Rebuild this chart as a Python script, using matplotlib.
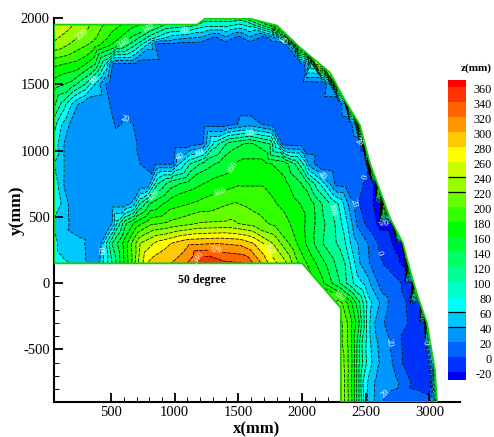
import numpy as np
import matplotlib
matplotlib.use("Agg")
import matplotlib.pyplot as plt
from matplotlib.colors import ListedColormap, BoundaryNorm
from matplotlib.patches import Polygon
from matplotlib.ticker import FixedLocator, NullFormatter
import matplotlib.tri as mtri
import matplotlib.transforms as mtrans

plt.rcParams['font.family'] = ['Liberation Serif', 'DejaVu Serif']
plt.rcParams['axes.unicode_minus'] = False

levels = [-60, -20, 0, 20, 40, 60, 80, 100, 120, 140, 160, 180, 200, 220, 240, 260, 280, 300, 320, 340, 360, 420]
band_colors = ['#0000ff', '#0032ff', '#0064ff', '#0096ff', '#00c8ff', '#00ffff', '#00ffc8', '#00ff96', '#00ff64',
               '#00ff32', '#00ff00', '#32ff00', '#64ff00', '#96ff00', '#c8ff00', '#ffff00', '#ffc800', '#ff9600',
               '#ff6400', '#ff3200', '#ff0000']
bar_ticks = [360, 340, 320, 300, 280, 260, 240, 220, 200, 180, 160, 140, 120, 100, 80, 60, 40, 20, 0, -20]

boundary_x = [52, 1175, 1238, 1591, 1803, 1984, 2219, 2337, 2455, 2533, 2690, 2792, 2847, 2910, 2981, 3043, 3059, 2305, 2305, 2000, 52]
boundary_y = [1950, 1950, 1995, 1995, 1943, 1777, 1589, 1378, 1190, 904, 490, 301, 98, -105, -301, -655, -896, -896, -188, 150, 150]

# thickness profiles read along rows of constant y
y2000 = 2000; x2000 = [52, 547, 806, 1175, 1238, 1513, 1803, 1984]; z2000 = [260, 185, 150, 120, 110, 110, 220, 220]
y1950 = 1950; x1950 = [52, 257, 414, 547, 649, 806, 924, 1120, 1238, 1400, 1591, 1748, 1803, 1870]
z1950 = [255, 235, 205, 185, 170, 150, 120, 110, 90, 90, 90, 150, 240, 240]
y1850 = 1850; x1850 = [52, 359, 547, 673, 806, 924, 1120, 1316, 1500, 1709, 1772, 1850, 1905, 1950]
z1850 = [245, 205, 165, 135, 90, 60, 40, 15, 12, 12, 30, 80, 240, 240]
y1800 = 1800; x1800 = [52, 359, 547, 673, 806, 853, 1025, 1199, 1400, 1591, 1750, 1866, 1921, 1968, 2000]
z1800 = [235, 195, 150, 110, 50, 15, 12, 10, 9, 8, 10, 15, 60, 220, 220]
y1650 = 1650; x1650 = [52, 257, 374, 453, 492, 516, 700, 900, 1100, 1300, 1591, 1800, 1984, 2046, 2078, 2109, 2150]
z1650 = [185, 170, 140, 80, 40, 15, 12, 10, 9, 8, 8, 8, 8, 30, 100, 220, 220]
y1500 = 1500; x1500 = [52, 178, 296, 374, 445, 492, 700, 950, 1199, 1400, 1600, 1800, 2000, 2180, 2219, 2266, 2300]
z1500 = [150, 135, 100, 60, 22, 15, 10, 8, 6, 6, 6, 8, 8, 10, 40, 220, 220]
y1350 = 1350; x1350 = [52, 115, 178, 241, 296, 484, 531, 700, 950, 1199, 1400, 1600, 1800, 2000, 2150, 2298, 2337, 2360, 2390]
z1350 = [125, 95, 65, 40, 30, 21, 15, 10, 8, 6, 6, 6, 6, 8, 8, 8, 40, 240, 240]
y1200 = 1200; x1200 = [52, 100, 162, 194, 350, 492, 547, 618, 673, 767, 900, 1050, 1222, 1400, 1591, 1772, 1950, 2150, 2300, 2376, 2415, 2455, 2490]
z1200 = [90, 65, 45, 32, 28, 24, 18, 22, 20, 12, 10, 10, 10, 10, 30, 10, 8, 8, 8, 8, 40, 260, 260]
y1050 = 1050; x1050 = [52, 123, 147, 300, 500, 688, 712, 850, 1000, 1120, 1222, 1261, 1316, 1434, 1591, 1748, 1811, 1850, 2000, 2150, 2300, 2400, 2447, 2470, 2494, 2530]
z1050 = [72, 45, 30, 30, 27, 24, 18, 14, 12, 12, 20, 50, 90, 130, 145, 120, 60, 15, 10, 8, 8, 8, 8, -5, 340, 340]
y900 = 900; x900 = [52, 115, 139, 300, 500, 688, 728, 850, 987, 1026, 1120, 1238, 1356, 1513, 1709, 1866, 1944, 2023, 2062, 2125, 2250, 2350, 2455, 2502, 2533, 2570]
z900 = [60, 50, 35, 30, 27, 24, 20, 18, 18, 55, 100, 130, 145, 165, 165, 150, 120, 70, 30, 12, 10, 8, 8, 8, 340, 340]
y750 = 750; x750 = [52, 100, 139, 300, 500, 728, 790, 822, 869, 963, 1120, 1277, 1513, 1709, 1866, 2023, 2141, 2219, 2266, 2350, 2439, 2470, 2549, 2580, 2596, 2630]
z750 = [70, 55, 35, 30, 27, 24, 22, 60, 100, 130, 150, 165, 178, 178, 165, 135, 80, 40, 14, 10, 8, 2, -15, -25, 300, 300]
y600 = 600; x600 = [52, 115, 178, 350, 500, 610, 673, 728, 806, 963, 1199, 1591, 1748, 1905, 2062, 2219, 2298, 2360, 2415, 2455, 2549, 2572, 2612, 2643, 2680]
z600 = [75, 58, 35, 32, 30, 30, 45, 100, 140, 170, 185, 195, 185, 170, 150, 100, 75, 40, 15, -2, -15, -25, -25, 300, 300]
y450 = 450; x450 = [52, 162, 194, 350, 492, 516, 555, 610, 688, 806, 963, 1199, 1434, 1630, 1787, 1984, 2141, 2258, 2337, 2392, 2439, 2502, 2572, 2604, 2706, 2722, 2760]
z450 = [55, 42, 35, 32, 30, 45, 90, 135, 165, 195, 205, 222, 225, 210, 195, 170, 130, 100, 70, 40, 15, -2, -15, -25, -25, 300, 300]
y300 = 300; x300 = [52, 100, 288, 320, 414, 429, 508, 610, 728, 885, 1097, 1332, 1513, 1620, 1772, 1960, 2164, 2321, 2400, 2478, 2557, 2635, 2745, 2780, 2800, 2830]
z300 = [75, 50, 42, 32, 28, 50, 120, 170, 240, 270, 295, 300, 295, 280, 240, 180, 120, 90, 50, 30, 10, -10, -25, -25, 300, 300]
y150 = 150; x150 = [52, 147, 288, 335, 382, 414, 508, 649, 728, 806, 1018, 1175, 1238, 1395, 1552, 1646, 1764, 1866, 1944, 2000, 2219, 2337, 2455, 2549, 2651, 2729, 2808, 2850, 2890]
z150 = [75, 62, 45, 30, 30, 45, 100, 190, 250, 285, 305, 335, 362, 345, 340, 310, 270, 245, 210, 190, 130, 100, 40, 15, -2, -15, -25, 300, 300]
y0 = 0; x0 = [1944, 2141, 2298, 2415, 2494, 2557, 2612, 2729, 2808, 2863, 2885, 2940]
z0 = [185, 170, 120, 75, 55, 32, 15, 8, -5, -10, 300, 300]
ym150 = -150; xm150 = [2305, 2376, 2439, 2494, 2533, 2596, 2651, 2729, 2847, 2926, 2945, 3010]
zm150 = [205, 170, 130, 90, 65, 45, 25, 10, -3, -8, 250, 250]
ym300 = -300; xm300 = [2305, 2376, 2439, 2478, 2510, 2557, 2612, 2714, 2926, 2960, 2981, 3020]
zm300 = [225, 190, 150, 110, 75, 45, 25, 10, -8, -8, 200, 200]
ym450 = -450; xm450 = [2305, 2376, 2431, 2470, 2517, 2572, 2659, 2745, 2808, 2965, 3004, 3020, 3050]
zm450 = [225, 190, 140, 100, 70, 45, 25, 8, -5, -8, 60, 150, 150]
ym600 = -600; xm600 = [2305, 2392, 2439, 2486, 2549, 2596, 2690, 2753, 2808, 2988, 3028, 3051, 3080]
zm600 = [235, 180, 130, 90, 60, 42, 25, 8, -5, -8, 60, 150, 150]
ym750 = -750; xm750 = [2305, 2400, 2439, 2478, 2533, 2596, 2729, 2824, 2863, 3004, 3028, 3067, 3090]
zm750 = [240, 170, 130, 80, 50, 32, 25, 10, -3, -8, 60, 150, 150]
ym900 = -900; xm900 = [2305, 2392, 2439, 2494, 2549, 2596, 2675, 2800, 2988, 3036, 3083, 3110]
zm900 = [240, 180, 130, 70, 45, 30, 12, 8, 5, 50, 150, 150]

rows = [(y2000, x2000, z2000), (y1950, x1950, z1950), (y1850, x1850, z1850), (y1800, x1800, z1800),
        (y1650, x1650, z1650), (y1500, x1500, z1500), (y1350, x1350, z1350), (y1200, x1200, z1200),
        (y1050, x1050, z1050), (y900, x900, z900), (y750, x750, z750), (y600, x600, z600),
        (y450, x450, z450), (y300, x300, z300), (y150, x150, z150), (y0, x0, z0),
        (ym150, xm150, zm150), (ym300, xm300, zm300), (ym450, xm450, zm450), (ym600, xm600, zm600),
        (ym750, xm750, zm750), (ym900, xm900, zm900)]

px = np.concatenate([np.asarray(r[1], float) for r in rows])
py = np.concatenate([np.full(len(r[1]), r[0], float) for r in rows])
pz = np.concatenate([np.asarray(r[2], float) for r in rows])

fig = plt.figure(figsize=(4.94, 4.37), dpi=100)
W, H = 494.0, 437.0
ax = fig.add_axes([54 / W, 1 - 402 / H, (460 - 54) / W, (402 - 18) / H])
ax.set_xlim(52, 3240)
ax.set_ylim(-896, 1995)

cmap = ListedColormap(band_colors)
norm = BoundaryNorm(levels, cmap.N)
tri = mtri.Triangulation(px, py)

clip = Polygon(np.column_stack([boundary_x, boundary_y]), closed=True, transform=ax.transData, fc='none', ec='none')
ax.add_patch(clip)
cf = ax.tricontourf(tri, pz, levels=levels, cmap=cmap, norm=norm)
cs = ax.tricontour(tri, pz, levels=levels[1:-1], colors='black', linewidths=0.55, linestyles=[(0, (5, 1.5))])
cf.set_clip_path(clip)
cs.set_clip_path(clip)

label_points = [(610, 1230), (374, 1530), (272, 1880), (594, 1815), (783, 1930), (1081, 1890), (1041, 958),
                (1199, 980), (1489, 850), (1364, 660), (830, 665), (453, 250), (1591, 1130), (1317, 240),
                (1199, 190), (1750, 260), (2290, -100), (2612, 230), (2667, -450), (2667, -850), (2150, 800),
                (2250, 560), (2400, 600), (1850, 1820), (2430, 1060), (2500, 800), (2640, 450), (2960, -450)]
lbls = ax.clabel(cs, manual=label_points, fmt='%d', fontsize=6, colors='white', inline=True, inline_spacing=1)

ax.add_patch(Polygon(np.column_stack([boundary_x, boundary_y]), closed=True, fill=False, ec='#10d010', lw=1.3, zorder=3))

for s in ['top', 'right']:
    ax.spines[s].set_visible(False)
for s in ['left', 'bottom']:
    ax.spines[s].set_linewidth(1.5)

ax.set_xticks([500, 1000, 1500, 2000, 2500, 3000])
ax.set_yticks([-500, 0, 500, 1000, 1500, 2000])
ax.xaxis.set_minor_locator(FixedLocator([600, 700, 800, 900, 1100, 1200, 1300, 1400, 1600, 1700, 1800, 1900, 2100, 2200, 2300]))
ax.yaxis.set_minor_locator(FixedLocator([-800, -700, -600, -400, -300, -200, -100]))
ax.xaxis.set_minor_formatter(NullFormatter())
ax.yaxis.set_minor_formatter(NullFormatter())
ax.tick_params(which='major', direction='in', length=6.5, width=1.3, labelsize=10.5, pad=3)
ax.tick_params(which='minor', direction='in', length=3.5, width=0.7)
ax.set_xlabel('x(mm)', fontsize=12, fontweight='bold', labelpad=1.5)
ax.set_ylabel('y(mm)', fontsize=12.5, fontweight='bold', labelpad=-3)
ax.text(1214, 23, '50 degree', fontsize=8.5, fontweight='bold', ha='center', va='center')

# legend bar
cax = fig.add_axes([448 / W, 1 - 380 / H, 18 / W, 300 / H])
edges = np.array([-31] + levels[1:-1] + [369], float)
mids = 0.5 * (edges[:-1] + edges[1:])
cax.pcolormesh([0, 1], edges, mids[:, None], cmap=cmap, norm=norm)
cax.hlines([240, 220, 60, 40], 0, 1, colors='black', lw=0.9)
cax.set_xlim(0, 1)
cax.set_ylim(-31, 369)
cax.set_xticks([])
cax.yaxis.tick_right()
cax.set_yticks(bar_ticks)
cax.tick_params(axis='y', length=0, labelsize=8.8, pad=18.5)
for t in cax.get_yticklabels():
    t.set_ha('right')
    t.set_transform(t.get_transform() + mtrans.ScaledTranslation(0, -2 / 100, fig.dpi_scale_trans))
for s in cax.spines.values():
    s.set_visible(False)
fig.text(476 / W, 1 - 68 / H, 'z(mm)', fontsize=8, fontweight='bold', ha='center', va='center')

fig.savefig('out.png', dpi=100)
